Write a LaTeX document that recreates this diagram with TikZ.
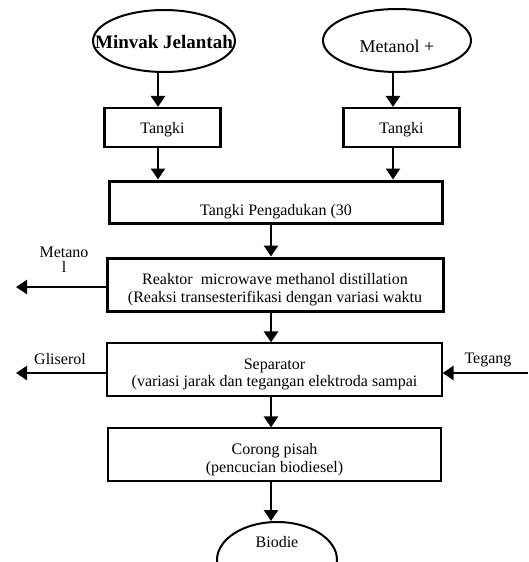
\documentclass[tikz,border=0pt]{standalone}
\usepackage{fontspec}
\setmainfont{Liberation Serif}
\usetikzlibrary{shapes,arrows.meta,positioning}

\begin{document}
\begin{tikzpicture}[
    x=1pt, y=-1pt,
    font=\fontsize{16}{18}\selectfont,
    oval/.style={ellipse, draw, line width=2pt, inner sep=0pt},
    tank/.style={rectangle, draw, line width=2.2pt, minimum width=116pt, minimum height=39pt, inner sep=0pt, text height=12pt, text depth=1pt},
    block/.style={rectangle, draw, line width=3pt, inner sep=0pt, align=center},
    thinblock/.style={rectangle, draw, line width=1.2pt, inner sep=0pt, align=center},
    arrow/.style={line width=2.5pt, -{Triangle[length=11pt,width=14pt]}}
]
\useasboundingbox (0,0) rectangle (528,562);

% Raw materials
\node[oval, minimum width=142pt, minimum height=62pt, text height=15pt, text depth=1pt, font=\fontsize{19}{21}\selectfont\bfseries] (oil) at (164,41) {\makebox[0pt]{Minvak Jelantah}};
\node[oval, minimum width=148pt, minimum height=63pt, text height=24pt, text depth=1pt, font=\fontsize{18}{20}\selectfont] (meth) at (397,40.5) {Metanol +};

% Tanks
\node[tank] (tankA) at (162.5,127.5) {Tangki};
\node[tank] (tankB) at (401.5,127.5) {Tangki};

% Process chain
\node[block, minimum width=333pt, minimum height=42pt, text height=27pt, text depth=1pt] (mix) at (276,202) {Tangki Pengadukan (30};
\node[block, minimum width=336pt, minimum height=53pt, text height=39pt, text depth=3.5pt] (reac) at (275,284.5) {Reaktor~ microwave methanol distillation\\(Reaksi transesterifikasi dengan variasi waktu};
\node[thinblock, minimum width=335pt, minimum height=53pt, text height=37pt, text depth=3.5pt, font=\fontsize{16}{17}\selectfont] (sep) at (274.5,369.5) {Separator\\(variasi jarak dan tegangan elektroda sampai};
\node[thinblock, minimum width=333pt, minimum height=53pt, text height=39pt, text depth=3.5pt] (wash) at (274.5,454.5) {Corong pisah\\(pencucian biodiesel)};
\node[oval, minimum width=120pt, minimum height=76pt, text height=2pt, text depth=28pt] (bio) at (277,560) {Biodie};

% Columns for the arrows
\coordinate (colA) at (158,0);
\coordinate (colB) at (393,0);
\coordinate (colC) at (271,0);

% Arrows
\draw[arrow] (oil.south -| colA) -- (tankA.north -| colA);
\draw[arrow] (meth.south -| colB) -- (tankB.north -| colB);
\draw[arrow] (tankA.south -| colA) -- (mix.north -| colA);
\draw[arrow] (tankB.south -| colB) -- (mix.north -| colB);
\draw[arrow] (mix.south -| colC) -- (reac.north -| colC);
\draw[arrow] (reac.south -| colC) -- (sep.north -| colC);
\draw[arrow] (sep.south -| colC) -- (wash.north -| colC);
\draw[arrow] (wash.south -| colC) -- (bio.north -| colC);

% Side streams
\coordinate (metout) at (16,287);
\coordinate (glisout) at (16,373);
\coordinate (volt) at (528,373);
\draw[arrow] (reac.west |- metout) -- (metout);
\draw[arrow] (sep.west |- glisout) -- (glisout);
\draw[arrow] (volt) -- (sep.east |- volt);

% Labels
\node[align=center, font=\fontsize{16}{15}\selectfont, anchor=base] (metlbl) at (64,272) {Metano\\l};
\node[anchor=base] (glislbl) at (60,364) {Gliserol};
\node[anchor=base] (teglbl) at (488,363) {Tegang};

\end{tikzpicture}
\end{document}
